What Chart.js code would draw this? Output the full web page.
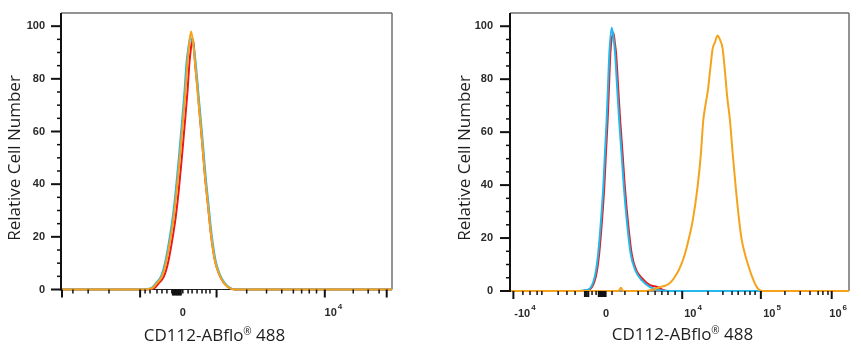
<!DOCTYPE html>
<html>
<head>
<meta charset="utf-8">
<title>CD112-ABflo 488 histograms</title>
<script src="https://cdn.jsdelivr.net/npm/chart.js@4.4.1/dist/chart.umd.min.js"></script>
<style>
  html, body { margin: 0; padding: 0; background: #fff; }
  #wrap { position: relative; width: 861px; height: 350px; overflow: hidden; }
  #chartLeft { position: absolute; left: 0; top: 0; }
  #chartRight { position: absolute; left: 430px; top: 0; }
</style>
</head>
<body>
<div id="wrap">
  <canvas id="chartLeft" width="430" height="350"></canvas>
  <canvas id="chartRight" width="431" height="350"></canvas>
</div>
<script>
// channel scale 0-1000 on both panels, y = relative cell number
var leftOrangeX = [0, 240, 275, 290, 305, 317, 329, 341, 350, 359, 368, 376, 382, 388, 393, 399, 405, 412, 420, 427, 435, 444, 453, 465, 477, 492, 510, 525, 1000];
var leftOrangeY = [0, 0, 0.5, 2.5, 5, 10, 18, 28, 38, 50, 63, 75, 86, 94, 98, 94, 86, 76, 65, 55, 43, 32, 21, 11, 6, 2.5, 0.5, 0, 0];
var leftBlueX = [0, 237, 272, 287, 302, 314, 326, 338, 347, 356, 365, 373, 379, 385, 390, 401, 407, 414, 422, 429, 437, 446, 455, 467, 479, 494, 512, 527, 1000];
var leftBlueY = [0, 0, 0.5, 2.5, 5, 10, 18, 28, 38, 50, 63, 75, 86, 92, 95.5, 92, 86, 76, 65, 55, 43, 32, 21, 11, 6, 2.5, 0.5, 0, 0];
var leftRedX = [0, 246, 281, 296, 311, 323, 335, 347, 356, 365, 374, 382, 388, 393, 397, 401, 405, 412, 420, 427, 435, 444, 453, 465, 477, 492, 510, 525, 1000];
var leftRedY = [0, 0, 0.5, 2.5, 5, 10, 18, 28, 38, 50, 63, 75, 86, 92, 95, 93, 86, 77, 65, 55, 43, 32, 21, 11, 6, 2.5, 0.5, 0, 0];

var rightOrangeX = [0, 320, 327, 334, 400, 413, 428, 443, 458, 472, 492, 505, 516, 528, 539, 553, 563, 570, 577, 584, 590, 598, 605, 612, 619, 627, 634, 641, 649, 657, 666, 676, 684, 693, 702, 711, 728, 743, 1000];
var rightOrangeY = [0, 0, 1.2, 0, 0, 0.3, 0.8, 1.5, 2, 3, 6.5, 10, 14, 20, 26.6, 39, 51.7, 64.3, 70.5, 76, 83, 91.7, 94, 96.5, 95, 91.7, 83, 73, 64.3, 51.7, 39, 26.6, 19, 14, 10, 6.5, 1.5, 0, 0];
var rightBlueX = [0, 192, 230, 246, 254, 260, 268, 275, 280, 285, 289, 293, 300, 305, 310, 316, 322, 329, 336, 345, 356, 369, 389, 413, 443, 472, 1000];
var rightBlueY = [0, 0, 0.5, 3.5, 8, 14, 26, 39, 52, 64.5, 77, 89.7, 99.4, 96, 89.7, 77, 64.5, 52, 39, 26, 14, 8, 4, 1.5, 0.3, 0, 0];
var rightRedX = [0, 195, 233, 249, 257, 263, 271, 278, 283, 288, 292, 296, 305, 309, 313, 319, 325, 332, 339, 348, 359, 372, 392, 413, 434, 450, 463, 1000];
var rightRedY = [0, 0, 0.5, 3.5, 8, 14, 26, 39, 52, 64.5, 77, 89.7, 97.5, 94, 89.7, 77, 64.5, 52, 39, 26, 14, 8, 4.5, 2.2, 1.5, 0.5, 0, 0];

// axis ticks
var yTickValues = [0, 20, 40, 60, 80, 100];
var yMinorTicks = [5, 10, 15, 25, 30, 35, 45, 50, 55, 65, 70, 75, 85, 90, 95];

// "10^4" = base with superscript exponent
var leftTickLabels = ['0', '10^4'];
var leftLabelAt = [368, 823];
var leftMajorTicks = [3, 239, 470, 797, 984];
var leftMidTicks = [338, 342, 346, 350, 354, 358, 362];
var leftMinorTicks = [36, 82, 145, 254, 269, 290, 305, 320, 335, 368, 384, 396, 411, 426, 438, 450, 561, 621, 667, 702, 727, 750, 772, 883, 928, 961];

var rightTickLabels = ['-10^4', '0', '10^4', '10^5', '10^6'];
var rightLabelAt = [44, 283, 540, 773, 968];
var rightMajorTicks = [10, 508, 740, 949];
var rightMidTicks = [221, 226, 231, 262, 266, 270, 274, 278, 282];
var rightMinorTicks = [38, 59, 80, 94, 142, 168, 192, 242, 254, 301, 339, 378, 407, 428, 448, 466, 487, 584, 628, 655, 673, 693, 708, 723, 811, 856, 885, 909, 923, 938];

var RED = '#e8191f', ORANGE = '#f5a31c', BLUE = '#25b8ea';

function points(xs, ys) {
    return xs.map(function (x, i) { return { x: x, y: ys[i] }; });
}

function strokeLine(ctx, x1, y1, x2, y2, w) {
    ctx.lineWidth = w;
    ctx.beginPath();
    ctx.moveTo(x1, y1);
    ctx.lineTo(x2, y2);
    ctx.stroke();
}

// frame, tick marks, tick labels and axis titles
var axisDecor = {
    id: 'axisDecor',
    beforeDatasetsDraw: function (chart) {
        var a = chart.chartArea, ctx = chart.ctx;
        ctx.save();
        ctx.strokeStyle = '#6f6f6f';
        strokeLine(ctx, a.left, a.top, a.right, a.top, 1.5);
        strokeLine(ctx, a.right, a.top, a.right, a.bottom, 1.5);
        ctx.strokeStyle = '#222';
        strokeLine(ctx, a.left, a.bottom, a.right, a.bottom, 1);
        ctx.restore();
    },
    afterDraw: function (chart, args, opts) {
        var a = chart.chartArea, ctx = chart.ctx;
        var xs = chart.scales.x, ys = chart.scales.y;
        ctx.save();
        ctx.strokeStyle = '#111';
        strokeLine(ctx, a.left, a.top, a.left, a.bottom + 1, 2);

        yTickValues.forEach(function (v) {
            var p = ys.getPixelForValue(v);
            strokeLine(ctx, a.left - 10, p, a.left, p, 2);
        });
        yMinorTicks.forEach(function (v) {
            var p = ys.getPixelForValue(v);
            strokeLine(ctx, a.left - 4, p, a.left, p, 1.5);
        });
        opts.major.forEach(function (v) {
            var p = xs.getPixelForValue(v);
            strokeLine(ctx, p, a.bottom, p, a.bottom + 8, 2);
        });
        opts.mid.forEach(function (v) {
            var p = xs.getPixelForValue(v);
            strokeLine(ctx, p, a.bottom, p, a.bottom + 6, 2);
        });
        opts.minor.forEach(function (v) {
            var p = xs.getPixelForValue(v);
            strokeLine(ctx, p, a.bottom, p, a.bottom + 4, 1.5);
        });

        // x tick labels with raised exponent
        var tickFont = 'bold 11px "Liberation Sans"', expFont = 'bold 8px "Liberation Sans"';
        ctx.fillStyle = '#2a2a2a';
        ctx.textAlign = 'left';
        ctx.textBaseline = 'alphabetic';
        opts.labels.forEach(function (lab, i) {
            var parts = lab.split('^');
            var p = xs.getPixelForValue(opts.labelAt[i]);
            ctx.font = tickFont;
            var wb = ctx.measureText(parts[0]).width;
            var we = 0;
            if (parts[1]) {
                ctx.font = expFont;
                we = ctx.measureText(parts[1]).width + 1;
            }
            var x0 = p - (wb + we) / 2;
            ctx.font = tickFont;
            ctx.fillText(parts[0], x0, a.bottom + 26);
            if (parts[1]) {
                ctx.font = expFont;
                ctx.fillText(parts[1], x0 + wb + 1, a.bottom + 19);
            }
        });

        // x title with small raised registered sign
        ctx.fillStyle = '#1e1e1e';
        var big = '17px "Open Sans"', small = '10px "Open Sans"';
        ctx.font = big;
        var w1 = ctx.measureText('CD112-ABflo').width;
        var w3 = ctx.measureText(' 488').width;
        ctx.font = small;
        var w2 = ctx.measureText('\u00AE').width;
        var x1 = opts.xTitleX - (w1 + w2 + w3) / 2;
        var base = opts.xTitleY;
        ctx.font = big;
        ctx.fillText('CD112-ABflo', x1, base);
        ctx.font = small;
        ctx.fillText('\u00AE', x1 + w1, base - 6);
        ctx.font = big;
        ctx.fillText(' 488', x1 + w1 + w2, base);

        // y title
        ctx.translate(opts.yTitleX, 158);
        ctx.rotate(-Math.PI / 2);
        ctx.textAlign = 'center';
        ctx.textBaseline = 'middle';
        ctx.font = big;
        ctx.fillText('Relative Cell Number', 0, 0);
        ctx.restore();
    }
};

function makeChart(id, series, decor, box) {
    var ctx = document.getElementById(id).getContext('2d');
    var datasets = series.map(function (s) {
        return {
            data: points(s.x, s.y),
            borderColor: s.color,
            borderWidth: 2,
            pointRadius: 0,
            fill: false,
            cubicInterpolationMode: 'monotone',
            clip: false
        };
    });

    return new Chart(ctx, {
        type: 'line',
        data: { datasets: datasets },
        options: {
            responsive: false,
            animation: false,
            layout: { padding: { top: 13, right: box.padRight, left: 0, bottom: 0 } },
            plugins: {
                legend: { display: false },
                tooltip: { enabled: false },
                axisDecor: decor
            },
            scales: {
                x: {
                    type: 'linear',
                    min: 0,
                    max: 1000,
                    grid: { display: false },
                    border: { display: false },
                    ticks: { display: false },
                    afterFit: function (scale) {
                        scale.height = box.xHeight;
                        scale.paddingLeft = 0;
                        scale.paddingRight = 0;
                    }
                },
                y: {
                    min: 0,
                    max: 105,
                    grid: { display: false },
                    border: { display: false },
                    afterBuildTicks: function (scale) {
                        scale.ticks = yTickValues.map(function (v) { return { value: v }; });
                    },
                    afterFit: function (scale) {
                        scale.width = box.yWidth;
                        scale.paddingTop = 0;
                        scale.paddingBottom = 0;
                    },
                    ticks: {
                        padding: box.yPad,
                        color: '#2a2a2a',
                        font: { family: 'Liberation Sans', size: 11, weight: 'bold' }
                    }
                }
            }
        },
        plugins: [axisDecor]
    });
}

makeChart('chartLeft',
    [
        { x: leftOrangeX, y: leftOrangeY, color: ORANGE },
        { x: leftBlueX, y: leftBlueY, color: BLUE },
        { x: leftRedX, y: leftRedY, color: RED }
    ],
    { labels: leftTickLabels, labelAt: leftLabelAt, major: leftMajorTicks, mid: leftMidTicks, minor: leftMinorTicks,
      xTitleX: 214.5, xTitleY: 341, yTitleX: 15.5 },
    { padRight: 38, xHeight: 60.5, yWidth: 61, yPad: 8 });

makeChart('chartRight',
    [
        { x: rightOrangeX, y: rightOrangeY, color: ORANGE },
        { x: rightBlueX, y: rightBlueY, color: BLUE },
        { x: rightRedX, y: rightRedY, color: RED }
    ],
    { labels: rightTickLabels, labelAt: rightLabelAt, major: rightMajorTicks, mid: rightMidTicks, minor: rightMinorTicks,
      xTitleX: 252.5, xTitleY: 340, yTitleX: 35 },
    { padRight: 12, xHeight: 59, yWidth: 80, yPad: 9 });
</script>
</body>
</html>
